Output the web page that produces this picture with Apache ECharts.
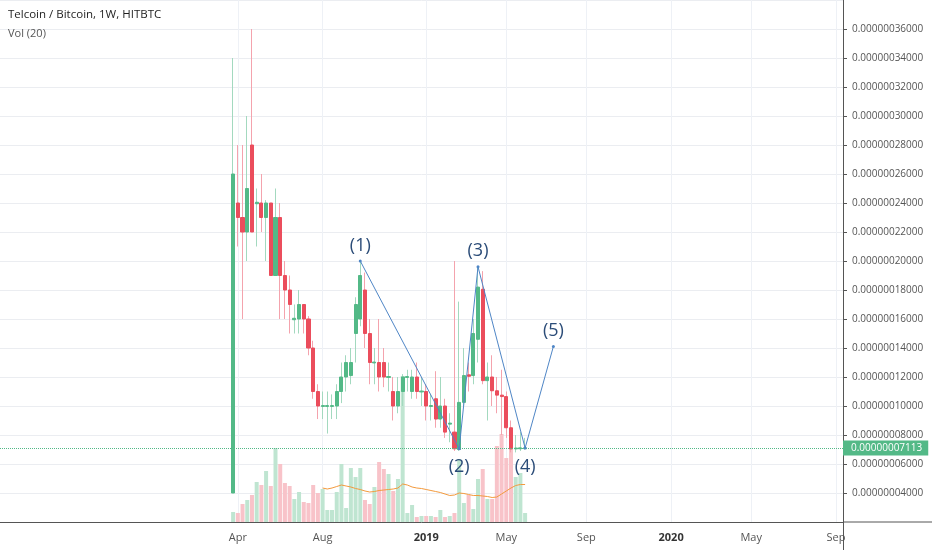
<!DOCTYPE html>
<html>
<head>
<meta charset="utf-8">
<script src="https://cdn.jsdelivr.net/npm/echarts@6/dist/echarts.min.js"></script>
<style>html,body{margin:0;padding:0;background:#fff}#chart{width:932px;height:550px}</style>
</head>
<body>
<div id="chart"></div>
<script>
// ---- data (prices in satoshi, 1 sat = 0.00000001 BTC) ----
const candleWeeks = ['2018-03-26','2018-04-02','2018-04-09','2018-04-16','2018-04-23','2018-04-30','2018-05-07','2018-05-14','2018-05-21','2018-05-28',
 '2018-06-04','2018-06-11','2018-06-18','2018-06-25','2018-07-02','2018-07-09','2018-07-16','2018-07-23','2018-07-30','2018-08-06',
 '2018-08-13','2018-08-20','2018-08-27','2018-09-03','2018-09-10','2018-09-17','2018-09-24','2018-10-01','2018-10-08','2018-10-15',
 '2018-10-22','2018-10-29','2018-11-05','2018-11-12','2018-11-19','2018-11-26','2018-12-03','2018-12-10','2018-12-17','2018-12-24',
 '2018-12-31','2019-01-07','2019-01-14','2019-01-21','2019-01-28','2019-02-04','2019-02-11','2019-02-18','2019-02-25','2019-03-04',
 '2019-03-11','2019-03-18','2019-03-25','2019-04-01','2019-04-08','2019-04-15','2019-04-22','2019-04-29','2019-05-06','2019-05-13',
 '2019-05-20','2019-05-27','2019-06-03'];
const openSats  = [4,24,23,22,28,23.95,24,23,24,19, 23,19,18,15.95,16,17,16,14,11,9.97, 9.97,9.97,10,11,12,12.1,15,16,18,15,
 12.97,13,13,11.97,11,10,11,11.97,11,12, 10.97,11,9.97,10.5,9.1,10,8.75,8.2,7,10.25, 12.15,12.1,14.6,18.05,11.75,12,11.05,10.75,10.65,8.5, 7.04,7.05,7.06];
const closeSats = [26,23,22,25,22,24.05,23,24,19,23, 19,18,17,16.05,17,16,14,11,10,10.03, 10.03,10.03,11,12,13,13,17,19,15,13,
 13.03,12,12,12.03,10,11,12,12.03,12,11, 11.03,10,10.03,9.1,10,8.2,8.82,7.05,10.25,12.1, 12.05,15,18.2,11.75,12,11.05,10.75,10.65,8.5,7.04, 7.1,7.113,7.113];
const lowSats   = [4,21,16,20,22,21,22,20,19,19, 16,16,15,15,15,15,13.5,10.5,9.1,9.1, 8.1,9.1,9.1,10.2,11,11.5,13,15.5,14,11.5,
 11.5,11,11.3,11,9,9.5,10,11,10.5,10.5, 10,9,9,8.5,8.5,7.8,7.5,6.9,6.9,10, 11,11.5,13,11.5,9,10,9.5,8,7.8,6.8, 6.8,6.9,7.0];
const highSats  = [34,28,28,30,36,25,26,24.2,24,25, 24,20,19,17,18,17,16.2,14.5,11.5,11, 11,10.8,11.5,13,13.5,14,17.5,20,19.2,16,
 14,16,14,13,12,12,12.2,12.5,12.5,13, 12,11.5,10.8,12.4,12,10.5,9.5,20,17.2,14, 13,16,19.6,19.3,13,13.5,12,12.5,11,9, 8,8.2,7.8];
const volume    = [10,9,18,22,27,40,37,51,36,74, 58,39,36,23,30,20,19,37,29,33, 12,12,30,58,14,54,45,54,22,18,
 35,60,53,48,31,43,146,9,17,5, 6,6,6,5,12,5,6,9,63,19, 27,13,43,53,23,23,76,88,64,85, 45,49,9];
const volumeMA20 = [null,null,null,null,null,null,null,null,null,null, null,null,null,null,null,null,null,null,null,34,
 33,34,35.5,37,36,35,33.5,32.5,31,30, 30.5,31.5,32,32.5,33,34,38,37,35,34, 33.5,32.5,31.5,30.5,29.5,28,26.5,27,29,28.5,
 27.5,26.5,26.5,26,25.5,24.5,25,28,31,34, 36.5,37.5,37.5];
const waveNames  = ['(1)','(2)','(3)','(4)','(5)'];
const waveWeeks  = ['2018-10-01','2019-02-25','2019-03-25','2019-06-03','2019-07-15'];
const wavePrices = [20, 7.05, 19.6, 7.1, 14.1];
const tickMonths = ['2018-04','2018-08','2019-01','2019-05','2019-09','2020-01','2020-05','2020-09'];
const monthNames = ['Jan','Feb','Mar','Apr','May','Jun','Jul','Aug','Sep','Oct','Nov','Dec'];

// ---- weekly category axis (visible range) ----
const categories = [];
const startMs = Date.UTC(2017, 3, 17);
for (let i = 0; i < 179; i++) {
  categories.push(new Date(startMs + i * 7 * 86400000).toISOString().slice(0, 10));
}
const idx = {};
categories.forEach((d, i) => { idx[d] = i; });

const UP = '#53b987', DOWN = '#eb4d5c';
const WICK_UP = '#a3d9bf', WICK_DOWN = '#f4a3ad';
const VOL_UP = '#bfe5d1', VOL_DOWN = '#f8c3c9';

const empty4 = () => ['-', '-', '-', '-'];
const wickData = categories.map(empty4);
const bodyData = categories.map(empty4);
const volData = categories.map(() => '-');
const maData = categories.map(() => '-');
candleWeeks.forEach((w, k) => {
  const i = idx[w];
  const o = openSats[k], c = closeSats[k];
  wickData[i] = [o, c, lowSats[k], highSats[k]];
  bodyData[i] = [o, c, Math.min(o, c), Math.max(o, c)];
  volData[i] = { value: volume[k], itemStyle: { color: c >= o ? VOL_UP : VOL_DOWN } };
  if (volumeMA20[k] !== null) maData[i] = volumeMA20[k];
});
const lastClose = closeSats[closeSats.length - 1];

const showTick = (i) => {
  const d = categories[i];
  return tickMonths.indexOf(d.slice(0, 7)) >= 0 && +d.slice(8, 10) <= 7;
};
const tickInterval = (i) => showTick(i);

const chart = echarts.init(document.getElementById('chart'), null, { renderer: 'canvas' });
chart.setOption({
  animation: false,
  backgroundColor: '#ffffff',
  textStyle: { fontFamily: 'Open Sans' },
  title: [
    { text: 'Telcoin / Bitcoin, 1W, HITBTC', left: 8, top: 9, padding: 0,
      textStyle: { fontSize: 11.5, fontWeight: 500, color: '#1e1e1e', fontFamily: 'Open Sans' } },
    { text: 'Vol (20)', left: 8, top: 28, padding: 0,
      textStyle: { fontSize: 11, fontWeight: 'normal', color: '#555', fontFamily: 'Open Sans' } }
  ],
  grid: { left: 0, right: 89, top: 0, bottom: 28, containLabel: false },
  xAxis: [{
    type: 'category', data: categories, boundaryGap: true,
    axisLine: { lineStyle: { color: '#555', width: 1 } },
    axisTick: { interval: tickInterval, alignWithLabel: true, length: 4, lineStyle: { color: '#555' } },
    axisLabel: {
      interval: tickInterval, margin: 10, fontSize: 11, color: '#555',
      formatter: (v) => {
        const m = +v.slice(5, 7);
        return m === 1 ? '{y|' + v.slice(0, 4) + '}' : monthNames[m - 1];
      },
      rich: { y: { fontSize: 11, color: '#333', fontWeight: 'bold', fontFamily: 'Open Sans' } }
    },
    splitLine: { show: true, interval: tickInterval, alignWithLabel: true, lineStyle: { color: '#eef1f6' } }
  }],
  yAxis: [{
    type: 'value', position: 'right', min: 2, max: 38, interval: 2,
    axisLine: { show: true, lineStyle: { color: '#555', width: 1 } },
    axisTick: { show: true, length: 4, lineStyle: { color: '#555' } },
    axisLabel: {
      showMinLabel: false, showMaxLabel: false, margin: 9, fontSize: 10, color: '#555',
      formatter: (v) => (v / 1e8).toFixed(11)
    },
    splitLine: { lineStyle: { color: '#ebedf1' } }
  }, {
    type: 'value', min: 0, max: 522, show: false
  }],
  series: [
    { name: 'Volume', type: 'bar', xAxisIndex: 0, yAxisIndex: 1, data: volData,
      barWidth: 4, z: 1, silent: true },
    { name: 'Vol MA', type: 'line', xAxisIndex: 0, yAxisIndex: 1, data: maData,
      symbol: 'none', lineStyle: { color: '#f39a3d', width: 1 }, z: 2, silent: true },
    { name: 'Wicks', type: 'candlestick', data: wickData, barWidth: 0.01, z: 3, silent: true,
      itemStyle: { color: WICK_UP, color0: WICK_DOWN, borderColor: WICK_UP, borderColor0: WICK_DOWN, borderWidth: 1 } },
    { name: 'TELBTC', type: 'candlestick', data: bodyData, barWidth: 3.6, z: 4, silent: true,
      itemStyle: { color: UP, color0: DOWN, borderColor: UP, borderColor0: DOWN, borderWidth: 1 },
      markLine: {
        silent: true, symbol: ['none', 'none'],
        lineStyle: { type: 'dotted', color: UP, width: 1 },
        label: {
          show: true, position: 'end', distance: 0,
          formatter: () => (lastClose / 1e8).toFixed(11),
          backgroundColor: UP, color: '#fff', fontSize: 10, padding: [3, 6, 2, 8]
        },
        data: [{ yAxis: lastClose }]
      }
    },
    { name: 'Wave', type: 'line', z: 5, silent: true,
      data: waveWeeks.map((w, i) => ({
        value: [w, wavePrices[i]],
        label: { position: i % 2 === 0 ? 'top' : 'bottom', distance: i % 2 === 0 ? 5 : 8 }
      })),
      symbol: 'circle', symbolSize: 3, showSymbol: true,
      itemStyle: { color: '#4f86c6' },
      lineStyle: { color: '#4f86c6', width: 1 },
      label: { show: true, formatter: (p) => waveNames[p.dataIndex], fontSize: 18,
        color: '#2b4c78', fontFamily: 'Open Sans' }
    }
  ],
  graphic: [
    { type: 'line', shape: { x1: 843, y1: 522, x2: 932, y2: 522 }, style: { stroke: '#555', lineWidth: 1 }, silent: true },
    { type: 'line', shape: { x1: 843.5, y1: 522, x2: 843.5, y2: 550 }, style: { stroke: '#555', lineWidth: 1 }, silent: true }
  ]
});
</script>
</body>
</html>
